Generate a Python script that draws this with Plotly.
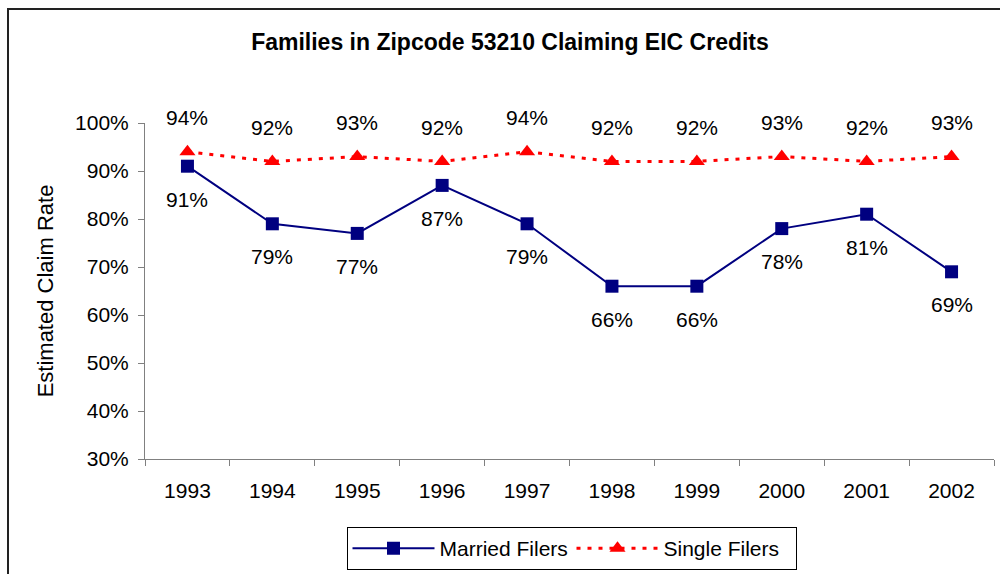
import plotly.graph_objects as go

years = ["1993", "1994", "1995", "1996", "1997", "1998", "1999", "2000", "2001", "2002"]
married = [0.91, 0.79, 0.77, 0.87, 0.79, 0.66, 0.66, 0.78, 0.81, 0.69]
single = [0.94, 0.92, 0.93, 0.92, 0.94, 0.92, 0.92, 0.93, 0.92, 0.93]
y_ticks = [0.3, 0.4, 0.5, 0.6, 0.7, 0.8, 0.9, 1.0]

FONT = "Liberation Sans, Arial, sans-serif"

fig = go.Figure()
fig.add_trace(go.Scatter(
    x=years, y=married, name="Married Filers", mode="lines+markers",
    line=dict(color="#000080", width=2),
    marker=dict(symbol="square", size=13, color="#000080"),
    cliponaxis=False,
))
fig.add_trace(go.Scatter(
    x=years, y=single, name="Single Filers", mode="lines+markers",
    line=dict(color="#FF0000", width=3, dash="4px,7px"),
    marker=dict(symbol="triangle-up", size=14, color="#FF0000"),
    cliponaxis=False,
))

annotations = []
for i, yv in enumerate(married):
    annotations.append(dict(x=i, y=yv, xref="x", yref="y", text=f"{yv:.0%}",
                            showarrow=False, yshift=-33, yanchor="middle",
                            font=dict(size=21, color="black", family=FONT)))
for i, yv in enumerate(single):
    annotations.append(dict(x=i, y=yv, xref="x", yref="y", text=f"{yv:.0%}",
                            showarrow=False, yshift=34, yanchor="middle",
                            font=dict(size=21, color="black", family=FONT)))

fig.update_layout(
    width=1000, height=574,
    paper_bgcolor="white", plot_bgcolor="white",
    font=dict(family=FONT, size=21, color="black"),
    margin=dict(l=145, r=6, t=123, b=115, autoexpand=False),
    title=dict(text="<b>Families in Zipcode 53210 Claiming EIC Credits</b>",
               x=0.51, xref="container", xanchor="center",
               y=1 - 42 / 574, yref="container", yanchor="middle",
               font=dict(size=23, family=FONT, color="black")),
    xaxis=dict(type="category", range=[-0.5, 9.5], tickson="boundaries",
               ticks="outside", ticklen=6, tickcolor="#808080",
               showline=True, linecolor="#808080", linewidth=1,
               showgrid=False, zeroline=False, ticklabelstandoff=13,
               tickfont=dict(size=21)),
    yaxis=dict(range=[0.3, 1.0], tickvals=y_ticks, tickformat=".0%",
               ticks="outside", ticklen=6, tickcolor="#808080",
               showline=True, linecolor="#808080", linewidth=1,
               showgrid=False, zeroline=False, ticklabelstandoff=5,
               tickfont=dict(size=21),
               title=dict(text="Estimated Claim Rate", standoff=15,
                          font=dict(size=22))),
    showlegend=True,
    legend=dict(orientation="h", x=0.5715, xref="container", xanchor="center",
                y=1 - 527 / 574, yref="container", yanchor="top",
                bordercolor="#000000", borderwidth=1, bgcolor="white",
                font=dict(size=21), itemwidth=82, entrywidth=127),
    annotations=annotations,
    shapes=[dict(type="rect", xref="paper", yref="paper",
                 x0=(8 - 145) / 849, x1=(1003 - 145) / 849,
                 y0=(459 - 578) / 336, y1=(459 - 9) / 336,
                 line=dict(color="#222222", width=2), layer="below")],
)

fig.write_html("out.html", config={"displayModeBar": False},
               post_script="document.body.style.margin='0';")
